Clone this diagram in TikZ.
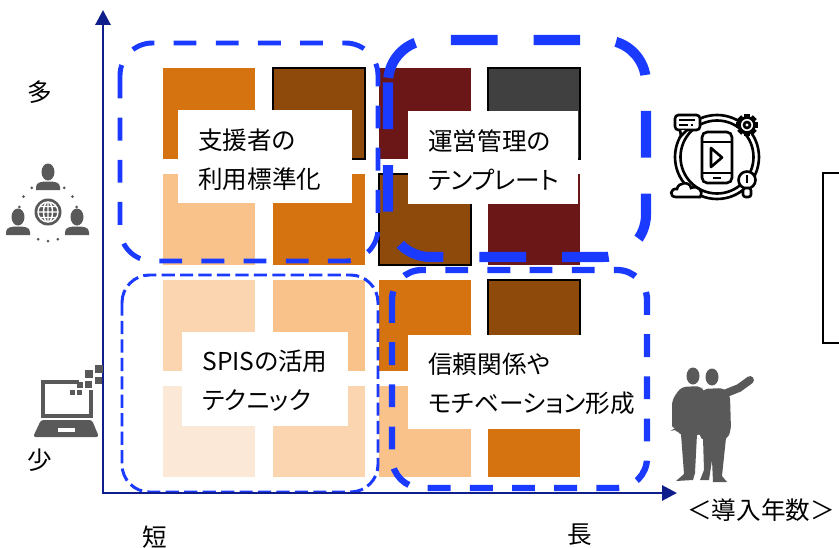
\documentclass[tikz,border=0pt]{standalone}
\usepackage{fontspec}
\setmainfont{Noto Sans CJK JP}
\newfontfamily\labelfont[RawFeature=+palt]{Noto Sans CJK JP}
\usetikzlibrary{arrows.meta}

\definecolor{axisblue}{RGB}{16,30,140}
\definecolor{dashblue}{RGB}{26,58,255}
\definecolor{icongray}{RGB}{89,89,89}
\definecolor{tileDark}{RGB}{107,23,23}
\definecolor{tileBrown}{RGB}{142,74,10}
\definecolor{tileOrange}{RGB}{213,115,16}
\definecolor{tileLight}{RGB}{248,194,138}
\definecolor{tilePale}{RGB}{250,213,176}
\definecolor{tileFaint}{RGB}{252,232,214}
\definecolor{tileGray}{RGB}{64,64,64}

\tikzset{
  axis/.style={axisblue, line width=1.7pt, {Triangle[length=8.5pt,width=8.5pt]}-{Triangle[length=8.5pt,width=8.5pt]}},
  whitebox/.style={fill=white, draw=none, inner sep=0pt},
  boxtext/.style={align=left, inner sep=0pt, anchor=west, font=\labelfont\fontsize{14}{22}\selectfont},
  axislabel/.style={inner sep=0pt, font=\fontsize{14}{16}\selectfont},
  group/.style={dashblue, rounded corners=#1},
  icon/.style={black, line width=1.5pt, fill=white},
}

\begin{document}
\begin{tikzpicture}[x=0.02cm, y=-0.02cm]
  \useasboundingbox (0,0) rectangle (839,548);

  % Tiles
  \foreach \x/\y/\clr/\edge in {
      163/68/tileOrange/none,  273/68/tileBrown/black,   379/68/tileDark/none,    488/68/tileGray/black,
      163/174/tileLight/none,  273/174/tileOrange/none,  379/174/tileBrown/black, 488/174/tileDark/none,
      163/280/tilePale/none,   273/280/tileLight/none,   379/280/tileOrange/none, 488/280/tileBrown/black,
      163/386/tileFaint/none,  273/386/tilePale/none,    379/386/tileLight/none,  488/386/tileOrange/none}{
    \filldraw[fill=\clr, draw=\edge, line width=0.8pt] (\x,\y) rectangle ++(92,91);
  }

  % Label boxes
  \node[whitebox, minimum width=3.48cm, minimum height=1.86cm] (box-support) at (265,156.5) {};
  \node[boxtext] (text-support) at (198,160) {支援者の\\利用標準化};
  \node[whitebox, minimum width=3.4cm, minimum height=1.86cm] (box-template) at (493,157.5) {};
  \node[boxtext] (text-template) at (428,160) {運営管理の\\テンプレート};
  \node[whitebox, minimum width=3.32cm, minimum height=1.88cm] (box-spis) at (265,379) {};
  \node[boxtext] (text-spis) at (202,380.5) {SPISの活用\\テクニック};
  \node[whitebox, minimum width=4.34cm, minimum height=1.88cm] (box-trust) at (516.5,382) {};
  \node[boxtext] (text-trust) at (428,384) {信頼関係や\\モチベーション形成};

  % Dashed groups
  \draw[group=0.65cm, line width=2.8pt, dash pattern=on 13pt off 11pt] (120,43) rectangle (378,261);
  \draw[group=0.85cm, line width=5.7pt, dash pattern=on 26.5pt off 20.5pt] (388,40) rectangle (646,257);
  \draw[group=0.55cm, line width=1.7pt, dash pattern=on 7.5pt off 3pt] (122,275) rectangle (378,492);
  \draw[group=0.6cm, line width=3.6pt, dash pattern=on 13pt off 11pt] (392,270) rectangle (647,488);

  % Axes
  \coordinate (origin) at (103,493);
  \coordinate (ytip) at (103,10);
  \coordinate (xtip) at (677,493);
  \draw[axis] (ytip) -- (origin) -- (xtip);

  \node[axislabel] (many) at (40,92) {多};
  \node[axislabel] (few) at (40,460) {少};
  \node[axislabel] (short) at (155,537) {短};
  \node[axislabel] (long) at (580,535) {長};
  \node[axislabel] (years) at (761,510) {＜導入年数＞};

  % People around a globe
  \fill[icongray] (48,212) circle (13.5);
  \draw[white, line width=0.8pt] (48,212) circle (10) (48,212) ellipse (4.5 and 10)
    (48,202) -- (48,222) (38,212) -- (58,212) (39.5,206.5) -- (56.5,206.5) (39.5,217.5) -- (56.5,217.5);
  \foreach \px/\py in {48/172, 18/217, 77/217}{
    \begin{scope}[shift={(\px,\py)}]
      \fill[icongray] (0,0) ellipse (6.5 and 8.5);
      \fill[icongray] (-12,18) -- (-12,15) .. controls (-12,10) and (-6,9.5) .. (0,9.5)
        .. controls (6,9.5) and (12,10) .. (12,15) -- (12,18) -- cycle;
    \end{scope}
  }
  \foreach \a in {190,212,236,304,328,350,70,90,110}
    \fill[icongray] (48,212) ++(\a:29) circle (1.5);

  % Laptop
  \draw[icongray, line width=2.6pt] (79,382) -- (43,382) -- (43,416) -- (91,416) -- (91,390);
  \fill[icongray, rounded corners=1.5pt] (41,420) -- (92,420) -- (99,437) -- (33,437) -- cycle;
  \fill[white] (58,428) rectangle (75,432);
  \foreach \x/\y/\s in {95/365/8, 85/370/8, 95/377/7, 77/382/6, 85/381/7, 70/390/5, 77/390/5}
    \fill[icongray] (\x,\y) rectangle ++(\s,\s);

  % Phone with ring
  \draw[black, line width=1.5pt] (717,157) circle (42) (717,157) circle (36.5);
  \draw[icon, rounded corners=3pt] (702,132) rectangle (732,183);
  \draw[icon] (702,142) -- (732,142) (702,173) -- (732,173) (713,178) -- (721,178);
  \draw[icon, line join=round] (711,148) -- (722,157.5) -- (711,167) -- cycle;
  \draw[icon, rounded corners=2pt] (675,115) rectangle (700,130);
  \draw[icon] (680,130) -- (681,136) -- (687,130);
  \draw[black, line width=1.5pt] (679,120) -- (695,120) (679,125) -- (688,125) (691,125) -- (693,125);
  \foreach \a in {0,45,...,315}
    \draw[black, line width=3.2pt] (747,125) ++(\a:6) -- ++(\a:5);
  \draw[icon] (747,125) circle (7.5);
  \draw[black, line width=1.5pt] (747,125) circle (3);
  \draw[icon] (747,180) circle (8.5);
  \draw[icon, rounded corners=1.5pt] (743,188) rectangle (751,197);
  \draw[black, line width=1.5pt] (747,175) -- (747,183);
  \draw[icon] (676,197) .. controls (669,197) and (670,188) .. (677,189)
    .. controls (678,182) and (690,181) .. (691,188) .. controls (698,185) and (704,191) .. (700,197) -- cycle;

  % Two men
  \fill[icongray] (693,376) ellipse (6.5 and 8.5);
  \fill[icongray, rounded corners=3pt] (681,387) -- (701,386) -- (704,392) -- (703,432) -- (698,436)
    -- (681,436) -- (675,428) -- (672,430) -- (672,400) -- cycle;
  \fill[icongray] (681,434) -- (697,434) -- (695,473) -- (693,480) -- (676,481) -- (684,474) -- cycle;
  \fill[icongray] (712,377) ellipse (6.5 and 8.5);
  \fill[icongray, rounded corners=3pt] (702,389) -- (724,388) -- (730,395) -- (731,430) -- (727,440)
    -- (700,440) -- (698,410) -- cycle;
  \draw[icongray, line width=4.5pt, line cap=round] (724,394) -- (739,388) -- (750,380);
  \fill[icongray] (703,438) -- (726,438) -- (722,476) -- (727,482) -- (713,482) -- (712,460) -- (709,480)
    -- (700,480) -- (704,470) -- cycle;

  % Frame at the right edge
  \draw[black, line width=0.9pt] (823,173) rectangle (870,343);
\end{tikzpicture}
\end{document}
